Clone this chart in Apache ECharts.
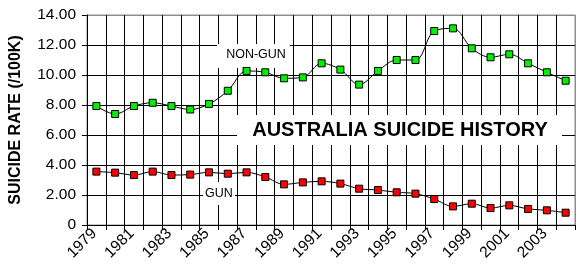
<!DOCTYPE html>
<html>
<head>
<meta charset="utf-8">
<script src="https://cdn.jsdelivr.net/npm/echarts@6/dist/echarts.min.js"></script>
<style>
html,body{margin:0;padding:0;background:#fff;}
#chart{width:578px;height:280px;}
</style>
</head>
<body>
<div id="chart"></div>
<script>
var years = ['1979','1980','1981','1982','1983','1984','1985','1986','1987','1988','1989','1990','1991','1992','1993','1994','1995','1996','1997','1998','1999','2000','2001','2002','2003','2004'];
var nonGun = [7.93,7.40,7.93,8.15,7.93,7.70,8.07,8.95,10.27,10.18,9.78,9.84,10.78,10.36,9.36,10.27,11.00,11.00,12.93,13.11,11.78,11.18,11.38,10.78,10.18,9.62];
var gun = [3.56,3.49,3.33,3.56,3.33,3.36,3.51,3.42,3.51,3.20,2.71,2.84,2.91,2.76,2.42,2.33,2.18,2.09,1.73,1.24,1.42,1.13,1.31,1.07,0.98,0.82];
var yTicks = {min:0, max:14, interval:2};
var titleText = 'AUSTRALIA SUICIDE HISTORY';
var yName = 'SUICIDE RATE (/100K)';

var FONT = 'Arial, "Liberation Sans", sans-serif';
var chart = echarts.init(document.getElementById('chart'), null, {renderer:'canvas'});

var ySplitColors = [];
for (var i = 0; i < 7; i++) ySplitColors.push('#000');
ySplitColors.push('#8c8c8c');
var xSplitColors = [];
for (var j = 0; j < years.length; j++) xSplitColors.push('#000');
xSplitColors.push('#8c8c8c');

chart.setOption({
  animation:false,
  backgroundColor:'#fff',
  grid:{left:82, top:15, right:3, bottom:55, show:true, borderColor:'#8c8c8c', borderWidth:1, backgroundColor:'transparent'},
  xAxis:{
    type:'category', data:years, boundaryGap:true,
    axisLine:{lineStyle:{color:'#000', width:1}},
    axisTick:{show:true, interval:0, length:5, lineStyle:{color:'#000'}},
    axisLabel:{interval:1, rotate:45, margin:4, padding:[0,3,0,0], fontSize:15.5, color:'#000', fontFamily:FONT, align:'right', verticalAlign:'middle'},
    splitLine:{show:true, interval:0, lineStyle:{color:xSplitColors, width:1}}
  },
  yAxis:{
    type:'value', min:yTicks.min, max:yTicks.max, interval:yTicks.interval,
    name:yName, nameLocation:'middle', nameGap:63,
    nameTextStyle:{fontSize:16, fontWeight:'bold', color:'#000', fontFamily:FONT},
    axisLine:{show:true, lineStyle:{color:'#000', width:1}},
    axisTick:{show:true, length:5, lineStyle:{color:'#000'}},
    axisLabel:{margin:11, fontSize:15.5, color:'#000', fontFamily:FONT,
      formatter:function(v){return v===0?'0':v.toFixed(2);}},
    splitLine:{show:true, lineStyle:{color:ySplitColors, width:1}}
  },
  graphic:[
    {type:'rect', z:1, shape:{x:217, y:44, width:73, height:24}, style:{fill:'#fff'}},
    {type:'text', z:1, x:256, y:55, style:{text:'NON-GUN', fill:'#000', font:'12.5px '+FONT, textAlign:'center', textVerticalAlign:'middle'}},
    {type:'rect', z:1, shape:{x:203, y:182, width:32, height:23}, style:{fill:'#fff'}},
    {type:'text', z:1, x:219, y:194, style:{text:'GUN', fill:'#000', font:'12.5px '+FONT, textAlign:'center', textVerticalAlign:'middle'}},
    {type:'rect', z:1, shape:{x:237, y:115, width:325, height:30}, style:{fill:'#fff'}},
    {type:'text', z:1, x:400, y:130, style:{text:titleText, fill:'#000', font:'bold 20px '+FONT, textAlign:'center', textVerticalAlign:'middle'}}
  ],
  series:[
    {type:'line', name:'NON-GUN', data:nonGun, smooth:0.35, symbol:'rect', symbolSize:7,
      lineStyle:{color:'#000', width:1}, itemStyle:{color:'#00f000', borderColor:'#000', borderWidth:1}, z:3},
    {type:'line', name:'GUN', data:gun, smooth:0.35, symbol:'rect', symbolSize:7,
      lineStyle:{color:'#000', width:1}, itemStyle:{color:'#ff0000', borderColor:'#000', borderWidth:1}, z:3}
  ]
});
</script>
</body>
</html>
